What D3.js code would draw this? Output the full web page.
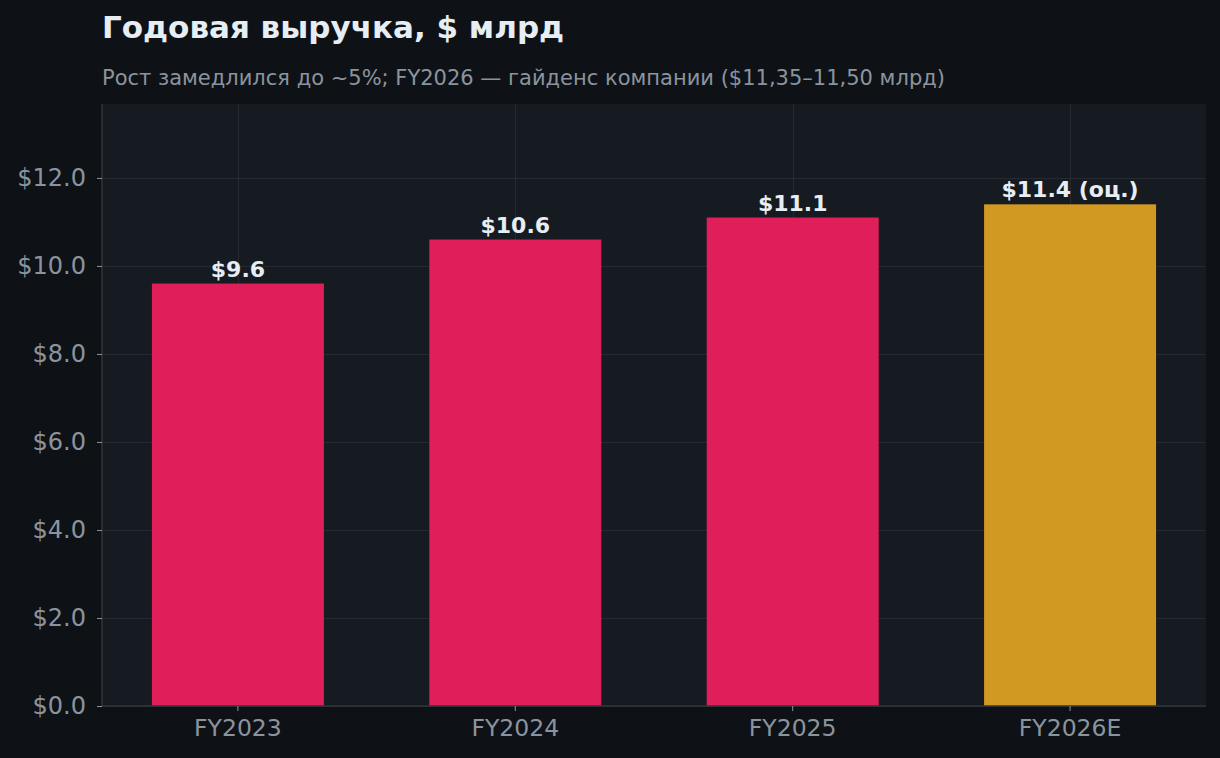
<!DOCTYPE html>
<html>
<head>
<meta charset="utf-8">
<script src="https://cdn.jsdelivr.net/npm/d3@7"></script>
<style>
  html, body { margin: 0; padding: 0; background: #0e1217; }
  svg { display: block; font-family: "DejaVu Sans", sans-serif; }
</style>
</head>
<body>
<svg id="chart" width="1220" height="758"></svg>
<script>
// data
const years = ["FY2023", "FY2024", "FY2025", "FY2026E"];
const revenue = [9.6, 10.6, 11.1, 11.4];
const isEstimate = [false, false, false, true];
const yTicks = [0, 2, 4, 6, 8, 10, 12];

const width = 1220, height = 758;
const margin = { top: 104, right: 14, bottom: 52, left: 102 };
const plotW = width - margin.left - margin.right;
const plotH = height - margin.top - margin.bottom;

const svg = d3.select("#chart");

svg.append("rect")
    .attr("width", width)
    .attr("height", height)
    .attr("fill", "#0e1217");

const g = svg.append("g")
    .attr("transform", `translate(${margin.left},${margin.top})`);

// scales
const x = d3.scaleBand()
    .domain(years)
    .range([0, plotW])
    .paddingInner(0.38)
    .paddingOuter(0.18);

const y = d3.scaleLinear()
    .domain([0, d3.max(revenue) * 1.2])
    .range([plotH, 0]);

// plot background
g.append("rect")
    .attr("width", plotW)
    .attr("height", plotH)
    .attr("fill", "#161b22");

// grid
g.selectAll(".hgrid")
    .data(yTicks)
    .enter()
    .append("line")
    .attr("class", "hgrid")
    .attr("x1", 0)
    .attr("x2", plotW)
    .attr("y1", d => Math.round(y(d)) + 0.5)
    .attr("y2", d => Math.round(y(d)) + 0.5)
    .attr("stroke", "#30363d")
    .attr("stroke-opacity", 0.6);

g.selectAll(".vgrid")
    .data(years)
    .enter()
    .append("line")
    .attr("class", "vgrid")
    .attr("x1", d => Math.round(x(d) + x.bandwidth() / 2) + 0.5)
    .attr("x2", d => Math.round(x(d) + x.bandwidth() / 2) + 0.5)
    .attr("y1", 0)
    .attr("y2", plotH)
    .attr("stroke", "#30363d")
    .attr("stroke-opacity", 0.6);

// bars
g.selectAll(".bar")
    .data(years)
    .enter()
    .append("rect")
    .attr("class", "bar")
    .attr("x", d => x(d))
    .attr("width", x.bandwidth())
    .attr("y", (d, i) => y(revenue[i]))
    .attr("height", (d, i) => plotH - y(revenue[i]))
    .attr("fill", (d, i) => isEstimate[i] ? "#d29922" : "#e01f5a");

// value labels
g.selectAll(".bar-text")
    .data(years)
    .enter()
    .append("text")
    .attr("class", "bar-text")
    .attr("x", d => x(d) + x.bandwidth() / 2)
    .attr("y", (d, i) => y(revenue[i]) - 7)
    .attr("text-anchor", "middle")
    .attr("fill", "#e6edf3")
    .style("font-size", "22px")
    .style("font-weight", "bold")
    .text((d, i) => "$" + revenue[i].toFixed(1) + (isEstimate[i] ? " (оц.)" : ""));

// axes
const yAxis = g.append("g")
    .call(d3.axisLeft(y).tickValues(yTicks).tickSize(5).tickPadding(11)
        .tickFormat(d => "$" + d.toFixed(1)));

const xAxis = g.append("g")
    .attr("transform", `translate(0,${plotH})`)
    .call(d3.axisBottom(x).tickSize(5).tickPadding(8));

[yAxis, xAxis].forEach(ax => {
    ax.select(".domain").attr("stroke", "#30363d").attr("stroke-width", 1.5);
    ax.selectAll(".tick line").attr("stroke", "#8b949e");
    ax.selectAll(".tick text")
        .attr("fill", "#8b949e")
        .style("font-family", "DejaVu Sans, sans-serif");
});
yAxis.selectAll(".tick text").style("font-size", "24px");
xAxis.selectAll(".tick text").style("font-size", "23.5px");
yAxis.select(".domain").attr("d", `M0,0V${plotH}`);
xAxis.select(".domain").attr("d", `M0,0H${plotW}`);

// titles
svg.append("text")
    .attr("x", 102)
    .attr("y", 38)
    .attr("fill", "#e6edf3")
    .style("font-size", "31px")
    .style("font-weight", "bold")
    .text("Годовая выручка, $ млрд");

svg.append("text")
    .attr("x", 102)
    .attr("y", 85)
    .attr("fill", "#8b949e")
    .style("font-size", "21px")
    .text("Рост замедлился до ~5%; FY2026 — гайденс компании ($11,35–11,50 млрд)");
</script>
</body>
</html>
